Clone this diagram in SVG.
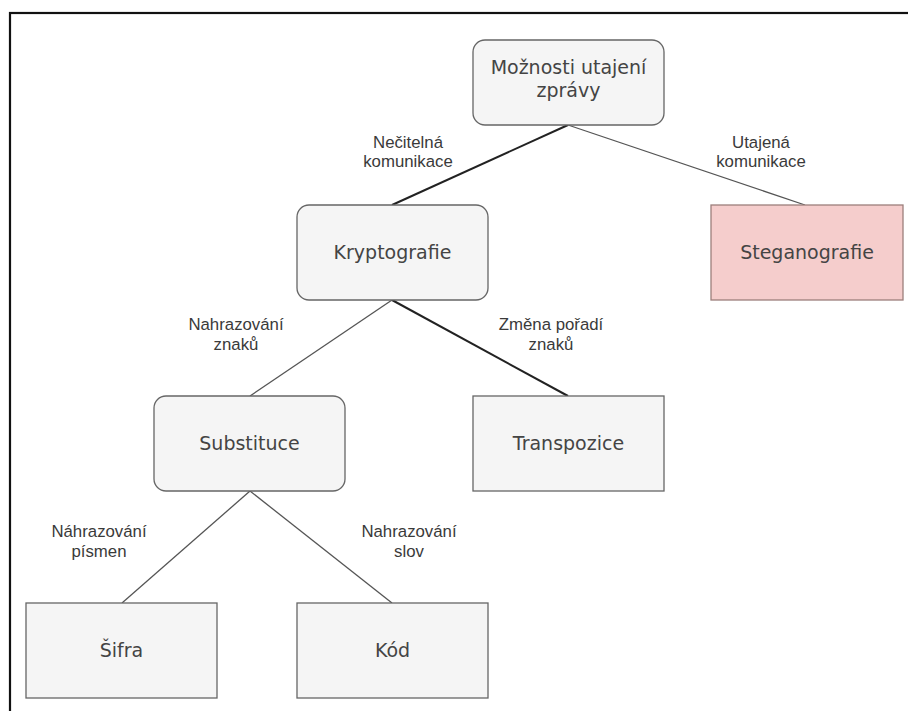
<svg xmlns="http://www.w3.org/2000/svg" width="908" height="711" viewBox="0 0 908 711">
  <style>
    .box { fill: #f5f5f5; stroke: #666666; stroke-width: 1.3; }
    .pink { fill: #f5cdcc; stroke: #9c7f7c; stroke-width: 1.3; }
    .ntext { font-family: "DejaVu Sans", Verdana, sans-serif; font-size: 19px; fill: #444444; text-anchor: middle; }
    .ltext { font-family: "Liberation Sans", Arial, sans-serif; font-size: 16.8px; fill: #3a3a3a; text-anchor: middle; }
    .edge { fill: none; stroke: #555555; stroke-width: 1.3; }
    .edge-strong { fill: none; stroke: #222222; stroke-width: 2; }
  </style>
  <rect x="0" y="0" width="908" height="711" fill="#ffffff"/>
  <!-- outer frame -->
  <rect x="10" y="13" width="920" height="720" fill="none" stroke="#111111" stroke-width="2.2"/>

  <g id="connectors">
    <line class="edge-strong" x1="568" y1="125" x2="392" y2="205"/>
    <line class="edge" x1="568" y1="125" x2="805" y2="205"/>
    <line class="edge" x1="392" y1="300" x2="250" y2="396"/>
    <line class="edge-strong" x1="392" y1="300" x2="568" y2="396"/>
    <line class="edge" x1="250" y1="491" x2="122" y2="603"/>
    <line class="edge" x1="250" y1="491" x2="392" y2="603"/>
  </g>

  <g id="edge-labels">
    <text class="ltext" x="408" y="148">Nečitelná</text>
    <text class="ltext" x="408" y="167">komunikace</text>
    <text class="ltext" x="761" y="148">Utajená</text>
    <text class="ltext" x="761" y="167">komunikace</text>
    <text class="ltext" x="236" y="330">Nahrazování</text>
    <text class="ltext" x="236" y="350">znaků</text>
    <text class="ltext" x="551" y="330">Změna pořadí</text>
    <text class="ltext" x="551" y="350">znaků</text>
    <text class="ltext" x="99" y="537">Náhrazování</text>
    <text class="ltext" x="99" y="557">písmen</text>
    <text class="ltext" x="409" y="537">Nahrazování</text>
    <text class="ltext" x="409" y="557">slov</text>
  </g>

  <g id="node-moznosti">
    <rect class="box" x="473" y="40" width="191" height="85" rx="12"/>
    <text class="ntext" x="568.5" y="74">Možnosti utajení</text>
    <text class="ntext" x="568.5" y="97">zprávy</text>
  </g>
  <g id="node-kryptografie">
    <rect class="box" x="297" y="205" width="191" height="95" rx="12"/>
    <text class="ntext" x="392.5" y="259">Kryptografie</text>
  </g>
  <g id="node-steganografie">
    <rect class="pink" x="711" y="205" width="192" height="95"/>
    <text class="ntext" x="807" y="259" fill="#3a2f2f">Steganografie</text>
  </g>
  <g id="node-substituce">
    <rect class="box" x="154" y="396" width="191" height="95" rx="12"/>
    <text class="ntext" x="249.5" y="450">Substituce</text>
  </g>
  <g id="node-transpozice">
    <rect class="box" x="473" y="396" width="191" height="95"/>
    <text class="ntext" x="568.5" y="450">Transpozice</text>
  </g>
  <g id="node-sifra">
    <rect class="box" x="26" y="603" width="191" height="95"/>
    <text class="ntext" x="121.5" y="657">Šifra</text>
  </g>
  <g id="node-kod">
    <rect class="box" x="297" y="603" width="191" height="95"/>
    <text class="ntext" x="392.5" y="657">Kód</text>
  </g>
</svg>
